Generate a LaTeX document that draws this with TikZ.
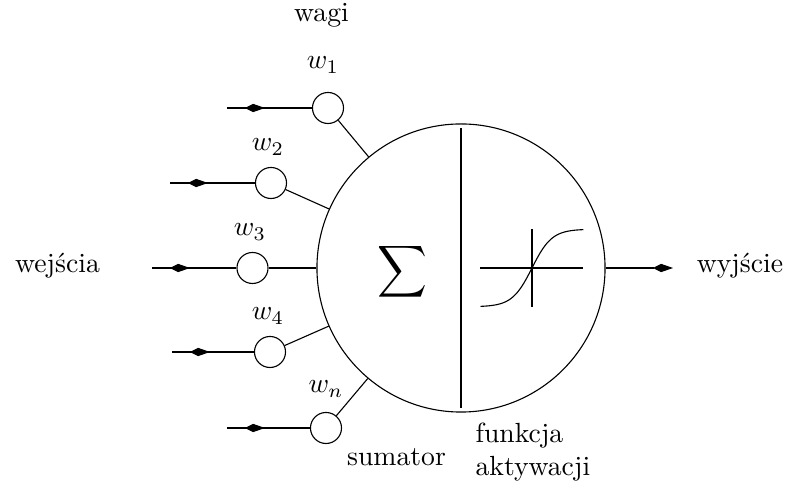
\documentclass[tikz,border=0pt]{standalone}
\usetikzlibrary{arrows.meta}
\begin{document}
\begin{tikzpicture}[x=0.361pt,y=-0.361pt,
  weight/.style={circle,draw,inner sep=0pt,minimum size=11.2pt},
  body/.style={circle,draw,inner sep=0pt,minimum size=104pt},
  marker/.style={-{Kite[length=7.2pt,width=3pt,inset=2.9pt]}},
  lbl/.style={anchor=base,inner sep=0pt}]
\useasboundingbox (0,0) rectangle (791,494);
% main body
\node[body] (neuron) at (461,268) {};
\coordinate (vtop) at (461,128);
\coordinate (vbot) at (461,408);
\draw (vtop) -- (vbot);
\node (sigma) at (402,272) {\resizebox*{18pt}{20.9pt}{$\displaystyle\sum$}};
% activation function
\coordinate (hl) at (480,268);
\coordinate (hr) at (583,268);
\coordinate (vt) at (532,229);
\coordinate (vb) at (532,307);
\draw (hl) -- (hr);
\draw (vt) -- (vb);
\draw[smooth] plot[domain=-1:1,samples=60] ({532+51.5*\x},{268-38.8*tanh(2.6*\x)});
% weights
\node[weight] (w1) at (328,108) {};
\node[weight] (w2) at (271,183) {};
\node[weight] (w3) at (252.5,268) {};
\node[weight] (w4) at (270,352) {};
\node[weight] (wn) at (326,428) {};
\foreach \n in {w1,w2,w3,w4,wn} \draw (\n) -- (neuron);
% inputs
\coordinate (i1) at (227,108);
\coordinate (i2) at (170,183);
\coordinate (i3) at (152,268);
\coordinate (i4) at (172,352);
\coordinate (in) at (227,428);
\foreach \a/\b in {i1/w1,i2/w2,i3/w3,i4/w4,in/wn}{
  \draw (\a) -- (\b);
  \draw[marker] (\a) -- ++(38,0);
}
% output
\coordinate (out) at (673,268);
\draw[marker] (neuron.east) -- (out);
% labels
\node[lbl] (l1) at (323,69) {$w_1$};
\node[lbl] (l2) at (268,151) {$w_2$};
\node[lbl] (l3) at (250,236) {$w_3$};
\node[lbl] (l4) at (268,320) {$w_4$};
\node[lbl] (ln) at (326,393) {$w_n$};
\node[lbl] (wagi) at (321.5,22) {wagi};
\node[lbl] (wej) at (57.5,273) {wejścia};
\node[lbl] (wyj) at (740,273) {wyjście};
\node[lbl] (sum) at (396.5,466) {sumator};
\node[anchor=base west,inner sep=0pt,align=left] (fa) at (475,476) {funkcja\\aktywacji};
\end{tikzpicture}
\end{document}
